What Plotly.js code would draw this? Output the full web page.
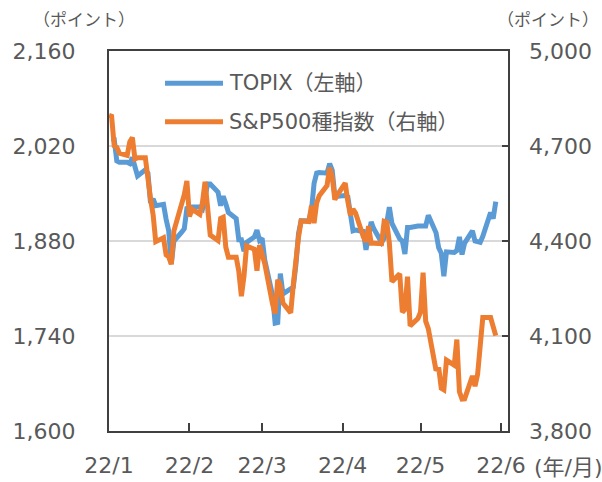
<!DOCTYPE html>
<html>
<head>
<meta charset="utf-8">
<script src="https://cdn.plot.ly/plotly-3.0.1.min.js"></script>
<style>html,body{margin:0;padding:0;background:#fff;}#chart{width:602px;height:482px;}</style>
</head>
<body>
<div id="chart"></div>
<script>
var dates = [
"2022-01-03","2022-01-04","2022-01-05","2022-01-06","2022-01-07","2022-01-10","2022-01-11","2022-01-12","2022-01-13","2022-01-14","2022-01-17","2022-01-18","2022-01-19","2022-01-20","2022-01-21","2022-01-24","2022-01-25","2022-01-26","2022-01-27","2022-01-28","2022-01-31",
"2022-02-01","2022-02-02","2022-02-03","2022-02-04","2022-02-07","2022-02-08","2022-02-09","2022-02-10","2022-02-11","2022-02-14","2022-02-15","2022-02-16","2022-02-17","2022-02-18","2022-02-21","2022-02-22","2022-02-23","2022-02-24","2022-02-25","2022-02-28",
"2022-03-01","2022-03-02","2022-03-03","2022-03-04","2022-03-07","2022-03-08","2022-03-09","2022-03-10","2022-03-11","2022-03-14","2022-03-15","2022-03-16","2022-03-17","2022-03-18","2022-03-21","2022-03-22","2022-03-23","2022-03-24","2022-03-25","2022-03-28","2022-03-29","2022-03-30","2022-03-31",
"2022-04-01","2022-04-04","2022-04-05","2022-04-06","2022-04-07","2022-04-08","2022-04-11","2022-04-12","2022-04-13","2022-04-14","2022-04-15","2022-04-18","2022-04-19","2022-04-20","2022-04-21","2022-04-22","2022-04-25","2022-04-26","2022-04-27","2022-04-28","2022-04-29",
"2022-05-02","2022-05-03","2022-05-04","2022-05-05","2022-05-06","2022-05-09","2022-05-10","2022-05-11","2022-05-12","2022-05-13","2022-05-16","2022-05-17","2022-05-18","2022-05-19","2022-05-20","2022-05-23","2022-05-24","2022-05-25","2022-05-26","2022-05-27","2022-05-30","2022-05-31",
"2022-06-01"
];

var topix = [
null,2031,2030,1998,1996,1996,1994,2003,1992,1976,1985,1980,1936,1942,1932,1934,1912,1895,1846,1880,1893,
1898,1928,1930,1930,1930,1927,1945,1964,1964,1952,1932,1946,1935,1922,1913,1882,1882,1865,1878,1886,
1896,1881,1884,1852,1800,1759,1760,1832,1802,1808,1812,1845,1891,1910,1910,1925,1965,1980,1981,1980,1994,1984,1946,
1946,1947,1945,1915,1895,1896,1894,1867,1884,1908,1898,1878,1884,1905,1930,1906,1883,1880,1861,1900,1900,
1902,1902,1902,1902,1918,1892,1870,1862,1828,1864,1863,1866,1886,1860,1877,1895,1880,1878,1878,1887,1922,1913,
1938
];

var sp500 = [
4796.56,4793.54,4700.58,4696.05,4677.03,4670.29,4713.07,4726.35,4659.03,4662.85,4662.85,4577.11,4532.76,4482.73,4397.94,4410.13,4356.45,4349.93,4326.51,4431.85,4515.55,
4546.54,4589.38,4477.44,4500.53,4483.87,4521.54,4587.18,4504.08,4418.64,4401.67,4471.07,4475.01,4380.26,4348.87,4348.87,4304.76,4225.50,4288.70,4384.65,4373.94,
4306.26,4386.54,4363.49,4328.87,4201.09,4170.70,4277.88,4259.52,4204.31,4173.11,4262.45,4357.86,4411.67,4463.12,4461.18,4511.61,4456.24,4520.16,4543.06,4575.52,4631.60,4602.45,4530.41,
4545.86,4582.64,4525.12,4481.15,4500.21,4488.28,4412.53,4397.45,4446.59,4392.59,4392.59,4391.69,4462.21,4459.45,4393.66,4271.78,4296.12,4175.20,4183.96,4287.50,4131.93,
4155.38,4175.48,4300.17,4146.87,4123.34,3991.24,4001.05,3935.18,3930.08,4023.89,4008.01,4088.85,3923.68,3900.79,3901.36,3973.75,3941.48,3978.73,4057.84,4158.24,4158.24,4132.15,
4101.23
];

var seriesNames = ["TOPIX（左軸）", "S&P500種指数（右軸）"];
var tickDates = ["2022-01-03","2022-02-03","2022-03-03","2022-04-03","2022-05-03","2022-06-03"];
var tickLabels = ["22/1","22/2","22/3","22/4","22/5","22/6"];
var leftTicks = [1600,1740,1880,2020,2160];
var rightTicks = [3800,4100,4400,4700,5000];
var unitLabel = "（ポイント）";
var xUnitLabel = "(年/月)";

var BLUE = "#5B9BD5", ORANGE = "#ED7D31";
var FONT = "'DejaVu Sans', 'Noto Sans CJK JP', sans-serif";
var TXT = "#595959", AX = "#404040";

var traces = [
  {x: dates, y: topix, name: seriesNames[0], type: "scatter", mode: "lines",
   line: {color: BLUE, width: 5}, connectgaps: true, yaxis: "y", showlegend: false},
  {x: dates, y: sp500, name: seriesNames[1], type: "scatter", mode: "lines",
   line: {color: ORANGE, width: 5}, yaxis: "y2", showlegend: false}
];

var legY = [0.915, 0.814];
var shapes = [], annotations = [];
[BLUE, ORANGE].forEach(function(c, i){
  shapes.push({type: "line", xref: "paper", yref: "paper", x0: 0.1404, x1: 0.2857, y0: legY[i], y1: legY[i],
    line: {color: c, width: 5}});
  annotations.push({xref: "paper", yref: "paper", x: 0.2957, y: legY[i], xanchor: "left", yanchor: "middle",
    text: seriesNames[i], showarrow: false, font: {family: FONT, size: 21, color: TXT}});
});
annotations.push({xref: "paper", yref: "paper", x: -0.0627, y: 1.0817, xanchor: "center", yanchor: "middle",
  text: unitLabel, showarrow: false, font: {family: FONT, size: 17, color: TXT}});
annotations.push({xref: "paper", yref: "paper", x: 1.099, y: 1.0817, xanchor: "center", yanchor: "middle",
  text: unitLabel, showarrow: false, font: {family: FONT, size: 17, color: TXT}});
annotations.push({xref: "paper", yref: "paper", x: 1.0602, y: -0.0962, xanchor: "left", yanchor: "middle",
  text: xUnitLabel, showarrow: false, font: {family: FONT, size: 22, color: TXT}});

var layout = {
  width: 602, height: 482,
  margin: {l: 109, r: 94, t: 51, b: 51, pad: 0},
  paper_bgcolor: "#fff", plot_bgcolor: "#fff",
  font: {family: FONT, size: 22, color: TXT},
  showlegend: false,
  xaxis: {
    type: "date", range: ["2022-01-03", "2022-06-05 17:00"],
    tickmode: "array", tickvals: tickDates, ticktext: tickLabels,
    ticks: "inside", ticklen: 8, tickwidth: 2, tickcolor: AX,
    showline: true, linecolor: AX, linewidth: 2, mirror: true,
    showgrid: false, zeroline: false, ticklabelstandoff: 14,
    tickfont: {family: FONT, size: 22, color: TXT}
  },
  yaxis: {
    range: [1600, 2160], tickmode: "array", tickvals: leftTicks,
    tickformat: ",d", ticks: "", showline: true, linecolor: AX, linewidth: 2, mirror: true,
    showgrid: true, gridcolor: "#d9d9d9", gridwidth: 2, zeroline: false,
    ticklabelstandoff: 27, tickfont: {family: FONT, size: 22, color: TXT}
  },
  yaxis2: {
    range: [3800, 5000], tickmode: "array", tickvals: rightTicks,
    tickformat: ",d", overlaying: "y", side: "right",
    ticks: "inside", ticklen: 6, tickwidth: 2, tickcolor: AX,
    showline: false, showgrid: false, zeroline: false,
    ticklabelstandoff: 20, tickfont: {family: FONT, size: 22, color: TXT}
  },
  shapes: shapes,
  annotations: annotations
};

Plotly.newPlot("chart", traces, layout, {staticPlot: true, displayModeBar: false});
</script>
</body>
</html>
